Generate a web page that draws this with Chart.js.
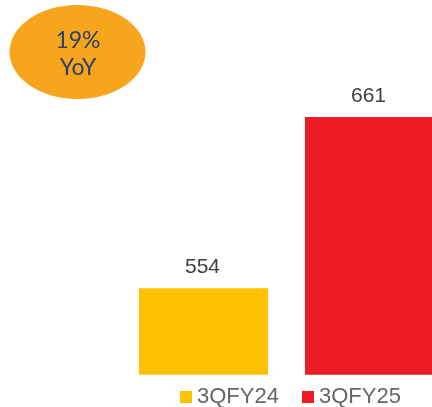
<!DOCTYPE html>
<html>
<head>
<meta charset="utf-8">
<script src="https://cdn.jsdelivr.net/npm/chart.js@4/dist/chart.umd.min.js"></script>
<style>
html,body{margin:0;padding:0;overflow:hidden;background:#fff;width:432px;height:407px;}
#wrap{position:relative;width:470px;height:407px;}
</style>
</head>
<body>
<div id="wrap"><canvas id="c" width="470" height="407"></canvas></div>
<script>
const categories = ["3QFY24", "3QFY25"];
const values = [554, 661];
const barColors = ["#FFC000", "#ED1C24"];
const badgeLines = ["19%", "YoY"];

const labelPlugin = {
  id: 'labels',
  afterDatasetsDraw(chart) {
    const ctx = chart.ctx;
    const meta = chart.getDatasetMeta(0);
    ctx.save();
    ctx.font = '21px "Liberation Sans", Arial, sans-serif';
    ctx.fillStyle = '#404040';
    ctx.textAlign = 'center';
    ctx.textBaseline = 'alphabetic';
    meta.data.forEach((bar, i) => {
      ctx.fillText(String(values[i]), bar.x - 1, bar.y - 15);
    });
    // legend
    ctx.font = '22px "Liberation Sans", Arial, sans-serif';
    ctx.textAlign = 'left';
    const legendX = [180, 302];
    categories.forEach((c, i) => {
      ctx.fillStyle = barColors[i];
      ctx.fillRect(legendX[i], 391, 12, 12);
      ctx.fillStyle = '#666666';
      ctx.fillText(c, legendX[i] + 17, 403);
    });
    // badge
    ctx.fillStyle = '#F7A51C';
    ctx.beginPath();
    ctx.ellipse(77.5, 52, 68, 47, 0, 0, Math.PI * 2);
    ctx.fill();
    ctx.fillStyle = '#2F4068';
    ctx.font = '23px Lato, "Open Sans", sans-serif';
    ctx.textAlign = 'center';
    ctx.fillText(badgeLines[0], 78, 48);
    ctx.fillText(badgeLines[1], 78, 75);
    ctx.restore();
  }
};

new Chart(document.getElementById('c'), {
  type: 'bar',
  data: {
    labels: categories,
    datasets: [{
      data: values,
      backgroundColor: barColors,
      borderWidth: 0,
      categoryPercentage: 1,
      barPercentage: 0.777
    }]
  },
  options: {
    responsive: false,
    animation: false,
    events: [],
    layout: { padding: { left: 120.5, right: 17.5, top: 54.7, bottom: 32.3 } },
    plugins: { legend: { display: false }, tooltip: { enabled: false } },
    scales: {
      x: { display: false },
      y: { display: false, min: 500, max: 700 }
    }
  },
  plugins: [labelPlugin]
});
</script>
</body>
</html>
